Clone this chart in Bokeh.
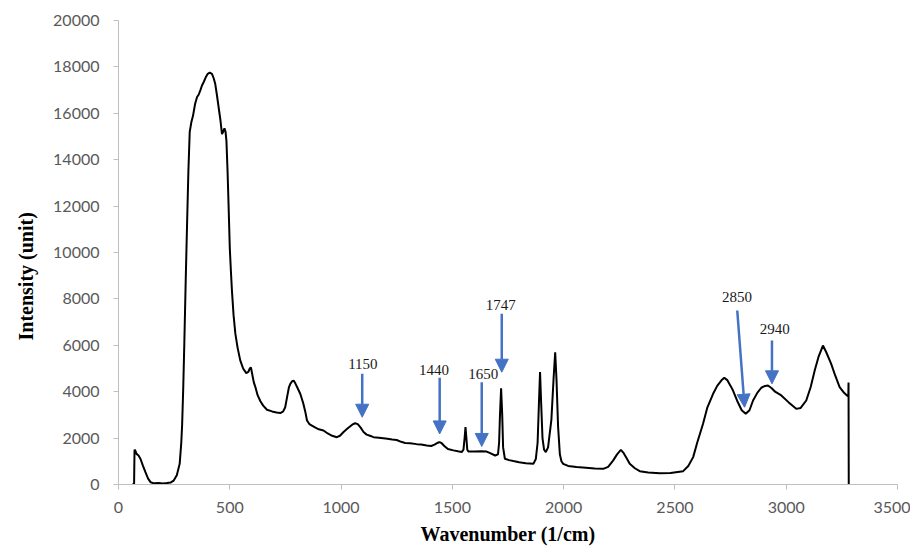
from bokeh.plotting import figure
from bokeh.models import Range1d, Arrow, NormalHead, FixedTicker, ColumnDataSource, Title
from bokeh.core.properties import value
from bokeh.embed import file_html
from bokeh.resources import INLINE

# Spectrum
wavenumber = [61, 70, 72, 76, 81, 90, 99, 110, 121, 133, 144, 160, 180, 200, 218, 235, 248, 262,
              275, 282, 286, 291, 296, 302, 308, 314, 320, 327, 335, 344, 353, 360, 368, 375,
              383, 392, 401, 410, 420, 428, 435, 442, 450, 458, 465, 470, 476, 481, 485, 490,
              495, 500, 505, 510, 517, 525, 535, 547, 560, 574, 583, 590, 595, 602, 608, 615,
              625, 637, 650, 667, 690, 710, 727, 740, 749, 758, 766, 772, 780, 787, 795, 805,
              817, 830, 840, 847, 858, 869, 885, 900, 921, 940, 960, 981, 995, 1010, 1030,
              1050, 1063, 1075, 1088, 1101, 1115, 1130, 1146, 1170, 1200, 1230, 1250, 1270,
              1288, 1310, 1340, 1360, 1385, 1405, 1420, 1435, 1442, 1452, 1465, 1480, 1505,
              1525, 1542, 1550, 1555, 1559, 1563, 1567, 1572, 1600, 1630, 1654, 1670, 1692,
              1705, 1710, 1714, 1719, 1724, 1728, 1736, 1755, 1774, 1800, 1830, 1864, 1875,
              1883, 1889, 1894, 1899, 1905, 1912, 1920, 1930, 1945, 1955, 1962, 1968, 1975,
              1983, 1990, 1998, 2020, 2058, 2100, 2140, 2178, 2200, 2222, 2240, 2257, 2270,
              2285, 2297, 2320, 2342, 2380, 2432, 2480, 2537, 2560, 2582, 2600, 2626, 2645,
              2671, 2690, 2710, 2722, 2735, 2750, 2761, 2780, 2800, 2818, 2835, 2851, 2870,
              2888, 2905, 2918, 2935, 2950, 2978, 3010, 3045, 3065, 3090, 3110, 3128, 3145,
              3165, 3180, 3202, 3220, 3240, 3260, 3273, 3279, 3280, 3281]
intensity = [0, 0, 1500, 1450, 1320, 1250, 1100, 800, 530, 250, 100, 50, 60, 40, 60, 90, 170, 400,
             900, 1800, 2600, 4200, 6200, 8800, 11200, 13500, 15200, 15600, 15900, 16400, 16700,
             16800, 17000, 17200, 17350, 17550, 17700, 17750, 17700, 17500, 17250, 16800, 16250,
             15700, 15100, 15200, 15350, 15200, 14800, 13500, 11900, 10200, 9200, 8300, 7300,
             6500, 5900, 5350, 5000, 4800, 4850, 5000, 5050, 4700, 4400, 4200, 3850, 3600, 3400,
             3220, 3150, 3100, 3080, 3150, 3330, 3800, 4200, 4340, 4450, 4480, 4350, 4150, 3900,
             3500, 3100, 2760, 2600, 2540, 2450, 2380, 2330, 2200, 2100, 2040, 2100, 2250, 2420,
             2580, 2640, 2600, 2450, 2260, 2150, 2100, 2040, 2020, 1980, 1940, 1920, 1840, 1790,
             1780, 1740, 1720, 1680, 1660, 1720, 1800, 1830, 1780, 1650, 1530, 1470, 1430, 1400,
             1500, 2000, 2470, 2000, 1500, 1420, 1420, 1430, 1420, 1350, 1250, 1300, 1800, 3000,
             4150, 3000, 1600, 1110, 1050, 1010, 960, 920, 890, 1100, 1800, 3500, 4850, 3500,
             2000, 1500, 1400, 1600, 2800, 4600, 5700, 4500, 2500, 1300, 1000, 890, 800, 750,
             720, 690, 675, 760, 1030, 1300, 1490, 1350, 1100, 890, 700, 575, 520, 490, 500, 575,
             800, 1180, 1800, 2610, 3300, 3900, 4250, 4500, 4600, 4500, 4250, 4050, 3600, 3200,
             3050, 3200, 3620, 3950, 4170, 4250, 4270, 4150, 4000, 3840, 3550, 3260, 3300, 3620,
             4200, 4910, 5500, 5990, 5700, 5200, 4700, 4200, 3950, 3840, 3800, 4400, 0]

# Annotations: label, label position, arrow start, arrow tip (data units)
ann_labels = ["1150", "1440", "1650", "1747", "2850", "2940"]
ann_text_x = [1098, 1418, 1639, 1717, 2779, 2948]
ann_text_y = [5200, 4940, 4770, 7720, 8100, 6710]
arrow_x0 = [1095, 1443, 1632, 1722, 2780, 2936]
arrow_y0 = [4770, 4600, 4410, 7360, 7500, 6210]
arrow_x1 = [1095, 1443, 1632, 1722, 2813, 2936]
arrow_y1 = [2900, 2180, 1640, 4840, 3330, 4340]

x_ticks = [0, 500, 1000, 1500, 2000, 2500, 3000, 3500]
y_ticks = [0, 2000, 4000, 6000, 8000, 10000, 12000, 14000, 16000, 18000, 20000]
x_title = "Wavenumber (1/cm)"
y_title = "Intensity (unit)"

p = figure(width=910, height=547, output_backend="svg", toolbar_location=None,
           x_range=Range1d(0, 3500), y_range=Range1d(0, 20000),
           min_border_left=118, min_border_right=13, min_border_top=20, min_border_bottom=63)
p.outline_line_color = None
p.grid.visible = False
p.background_fill_color = "white"

p.line(wavenumber, intensity, line_color="black", line_width=2)

src = ColumnDataSource(dict(x=ann_text_x, y=ann_text_y, t=ann_labels))
p.text(x="x", y="y", text="t", source=src, text_font=value("Liberation Serif"),
       text_font_size="15px", text_color="#1a1a1a", text_align="center", text_baseline="middle")

for xs, ys, xe, ye in zip(arrow_x0, arrow_y0, arrow_x1, arrow_y1):
    p.add_layout(Arrow(end=NormalHead(size=13, fill_color="#4472C4", line_color="#4472C4", line_width=1),
                       x_start=xs, y_start=ys, x_end=xe, y_end=ye,
                       line_color="#4472C4", line_width=2.5))

for ax in (p.xaxis[0], p.yaxis[0]):
    ax.axis_line_color = "#BFBFBF"
    ax.major_tick_line_color = "#BFBFBF"
    ax.minor_tick_line_color = None
    ax.major_tick_in = 0
    ax.major_tick_out = 5
    ax.major_label_text_font = "Lato"
    ax.major_label_text_font_size = "16px"
    ax.major_label_text_color = "#595959"

p.xaxis[0].ticker = FixedTicker(ticks=x_ticks)
p.yaxis[0].ticker = FixedTicker(ticks=y_ticks)
p.xaxis[0].major_label_standoff = 12
p.yaxis[0].major_label_standoff = 14

p.xaxis[0].axis_label = x_title
p.xaxis[0].axis_label_text_font = "Liberation Serif"
p.xaxis[0].axis_label_text_font_style = "bold"
p.xaxis[0].axis_label_text_font_size = "20px"
p.xaxis[0].axis_label_text_color = "black"
p.xaxis[0].axis_label_standoff = 7

p.add_layout(Title(text=y_title, align="left", offset=144, standoff=24, vertical_align="top",
                   text_font="Liberation Serif", text_font_style="bold",
                   text_font_size="20px", text_color="black"), "left")

open("out.html", "w").write(file_html(p, INLINE))
